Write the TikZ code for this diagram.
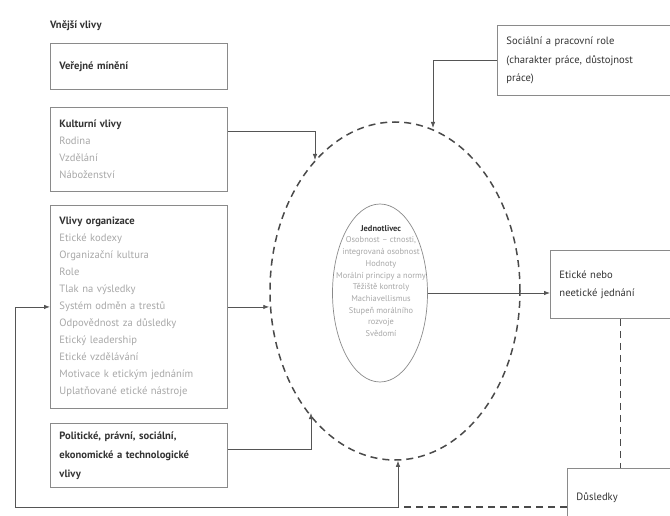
\documentclass[tikz,border=0pt]{standalone}
\usepackage{fontspec}
\setmainfont{PT Sans}
\usetikzlibrary{arrows.meta,shapes.geometric}
\definecolor{hd}{HTML}{333333}
\definecolor{itc}{HTML}{A8A8A8}
\definecolor{bx}{HTML}{8A8A8A}
\definecolor{ln}{HTML}{555555}
\definecolor{ds}{HTML}{4A4A4A}
\newcommand\lgr[1]{\textcolor{itc}{#1}}
\begin{document}
\begin{tikzpicture}[x=1pt,y=-1pt,
  box/.style={draw=bx, line width=0.9pt, rectangle, anchor=north west, inner xsep=9pt, inner ysep=0pt, align=left, font=\fontsize{10.6}{17}\selectfont, text=hd},
  conn/.style={draw=ln, line width=0.8pt, -{Latex[length=6pt,width=4.5pt]}},
  dconn/.style={draw=ds, line width=1.5pt, dash pattern=on 7pt off 5pt},
]
\useasboundingbox[fill=white] (0,0) rectangle (670,516);

\node[anchor=west, inner sep=0pt, text=hd, font=\fontsize{10.6}{17}\selectfont\bfseries] (vne) at (50,26) {Vnější vlivy};

\node[box, minimum width=177pt, minimum height=46pt, text width=159pt] (ver) at (50,43) {\textbf{Veřejné mínění}};

\node[box, minimum width=177pt, minimum height=84pt, text width=159pt] (kul) at (50,107)
  {\textbf{Kulturní vlivy}\\ \lgr{Rodina}\\ \lgr{Vzdělání}\\ \lgr{Náboženství}};

\node[box, minimum width=177pt, minimum height=203pt, text width=159pt] (org) at (50,205)
  {\textbf{Vlivy organizace}\\ \lgr{Etické kodexy}\\ \lgr{Organizační kultura}\\ \lgr{Role}\\ \lgr{Tlak na výsledky}\\ \lgr{Systém odměn a trestů}\\ \lgr{Odpovědnost za důsledky}\\ \lgr{Etický leadership}\\ \lgr{Etické vzdělávání}\\ \lgr{Motivace k etickým jednáním}\\ \lgr{Uplatňované etické nástroje}};

\node[box, minimum width=177pt, minimum height=64pt, text width=159pt, font=\fontsize{10.6}{19}\selectfont\bfseries] (pol) at (50,423)
  {Politické, právní, sociální,\\ ekonomické a technologické\\ vlivy};

\node[box, minimum width=190pt, minimum height=70pt, text width=172pt, font=\fontsize{10.6}{18.5}\selectfont] (soc) at (497,25)
  {Sociální a pracovní role\\ (charakter práce, důstojnost\\ práce)};

\node[box, minimum width=140pt, minimum height=68pt, text width=122pt, font=\fontsize{10.6}{18}\selectfont] (eth) at (550,250)
  {Etické nebo\\ neetické jednání};

\node[box, minimum width=120pt, minimum height=58pt, text width=102pt] (dus) at (567,468) {Důsledky};

\node[ellipse, dconn, minimum width=250pt, minimum height=338pt, inner sep=0pt] (outer) at (395,291) {};
\node[ellipse, draw=bx, line width=0.7pt, minimum width=95pt, minimum height=178pt, inner sep=0pt] (ind) at (380,293) {};
\node[align=center, inner sep=0pt, text=itc, font=\fontsize{8.4}{11.7}\selectfont] (indt) at (381,281)
  {\textcolor{hd}{\bfseries Jednotlivec}\\ Osobnost -- ctnosti,\\ integrovaná osobnost\\ Hodnoty\\ Morální principy a normy\\ Těžiště kontroly\\ Machiavellismus\\ Stupeň morálního\\ rozvoje\\ Svědomí};

\coordinate (kt) at (315,160);
\coordinate (st) at (433,128);
\coordinate (pt) at (311,413);
\coordinate (bl) at (398,507);
\coordinate (lc) at (15,507);

\draw[conn] ([yshift=18pt]kul.east) -| (kt);
\draw[conn] (soc.west) -| (st);
\draw[conn] (org.east) -- (org.east -| outer.west);
\draw[conn] ([yshift=6pt]pol.east) -| (pt);
\draw[conn] (ind.east) -- (ind.east -| eth.west);
\draw[dconn] (eth.south) -- (eth.south |- dus.north);
\draw[dconn] (dus.west |- bl) -- (bl);
\draw[conn] (bl) -- (lc) |- (org.west);
\draw[conn] (bl) -- (bl |- outer.south);
\end{tikzpicture}
\end{document}
